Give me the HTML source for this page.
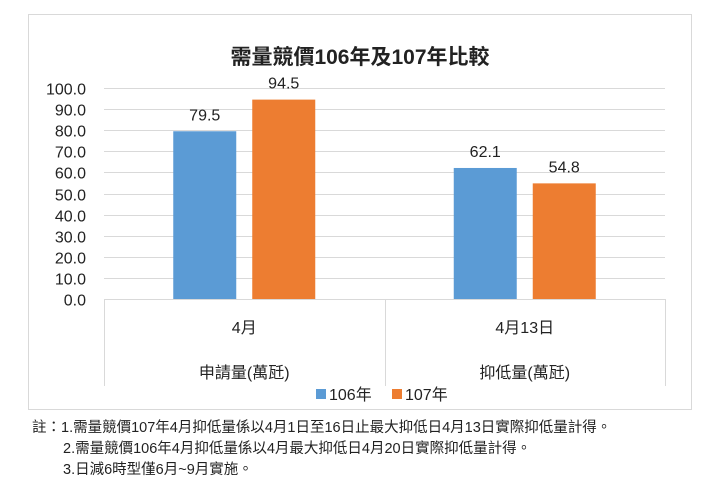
<!DOCTYPE html>
<html><head><meta charset="utf-8"><style>
body{margin:0;background:#fff;width:720px;height:500px;overflow:hidden;font-family:"Liberation Sans","Noto Sans CJK TC",sans-serif;}
svg text{font-family:"Liberation Sans","Noto Sans CJK TC",sans-serif;}
.note{position:absolute;font-size:14.5px;color:#222;white-space:nowrap;}
</style></head><body>
<svg width="720" height="500" style="position:absolute;left:0;top:0">
<rect x="28.5" y="14.5" width="663" height="395" fill="#fff" stroke="#d9d9d9"/>
<text x="360" y="64" text-anchor="middle" font-size="21" font-weight="bold" fill="#222">需量競價106年及107年比較</text>
<g id="grid"></g><g id="bars"></g><g id="axis"></g>
<rect x="316" y="389" width="10" height="10" fill="#5b9bd5"/>
<text x="329" y="400" font-size="16" fill="#222">106年</text>
<rect x="392" y="389" width="10" height="10" fill="#ed7d31"/>
<text x="405" y="400" font-size="16" fill="#222">107年</text>
</svg>
<div class="note" style="left:32px;top:416px">註：1.需量競價107年4月抑低量係以4月1日至16日止最大抑低日4月13日實際抑低量計得。</div>
<div class="note" style="left:63px;top:437px">2.需量競價106年4月抑低量係以4月最大抑低日4月20日實際抑低量計得。</div>
<div class="note" style="left:63px;top:458px">3.日減6時型僅6月~9月實施。</div>
<script>
const categories=["4月","4月13日"];
const subLabels=["申請量(萬瓩)","抑低量(萬瓩)"];
const series106=[79.5,62.1];
const series107=[94.5,54.8];
const yTicks=[0,10,20,30,40,50,60,70,80,90,100];
const NS="http://www.w3.org/2000/svg";
const x0=104,x1=665,y0=299,y100=88;
const yScale=v=>y0-(v/100)*(y0-y100);
const catW=(x1-x0)/categories.length;
function mk(tag,attrs,parent,txt){const e=document.createElementNS(NS,tag);for(const k in attrs)e.setAttribute(k,attrs[k]);if(txt!==undefined)e.textContent=txt;parent.appendChild(e);return e;}
const grid=document.getElementById('grid'),bars=document.getElementById('bars'),axis=document.getElementById('axis');
yTicks.forEach(t=>{const y=Math.round(yScale(t))+0.5;
 const l=mk('line',{x1:x0,x2:x1,y1:y,y2:y,stroke:'#d9d9d9'},grid);
 
 
 const tx=mk('text',{x:86,y:y+6,'text-anchor':'end','font-size':'16',fill:'#222'},grid,t.toFixed(1));
 
 
});
for(let i=0;i<=categories.length;i++){const x=Math.round(x0+i*catW)+0.5;
 const l=mk('line',{x1:x,x2:x,y1:y0,y2:386,stroke:'#d9d9d9'},axis);
 
 
}
const bw=63;
categories.forEach((c,i)=>{const cx=x0+catW*(i+0.5);
 [[series106,'#5b9bd5',cx-bw-8,'106'],[series107,'#ed7d31',cx+8,'107']].forEach(([s,col,bx,nm])=>{
  const y=yScale(s[i]);
  const r=mk('rect',{x:bx,y:y,width:bw,height:y0-y,fill:col},bars);
  
  
  const t=mk('text',{x:bx+bw/2,y:y-11,'text-anchor':'middle','font-size':'16',fill:'#222'},bars,s[i].toFixed(1));
  
  
 });
 const a=mk('text',{x:cx,y:333,'text-anchor':'middle','font-size':'16',fill:'#222'},axis,c);
 
 
 const b=mk('text',{x:cx,y:378,'text-anchor':'middle','font-size':'16',fill:'#222'},axis,subLabels[i]);
 
 
});
</script>
</body></html>
